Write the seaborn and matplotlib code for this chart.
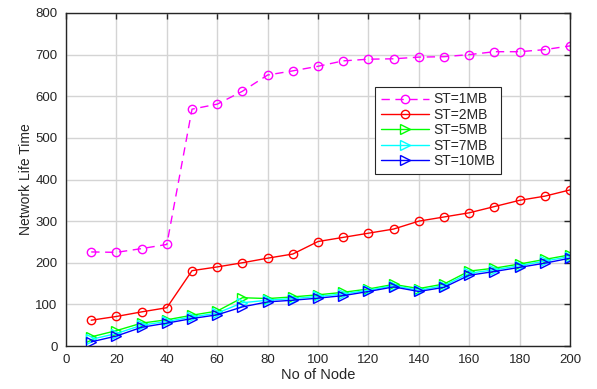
import numpy as np
import pandas as pd
import matplotlib
matplotlib.use('Agg')
import matplotlib.pyplot as plt
import seaborn as sns

nodes = [10, 20, 30, 40, 50, 60, 70, 80, 90, 100, 110, 120, 130, 140, 150, 160, 170, 180, 190, 200]
st_1mb = [226, 225, 234, 244, 569, 581, 612, 651, 661, 672, 685, 689, 690, 694, 695, 700, 707, 707, 712, 721]
st_2mb = [62, 71, 82, 92, 181, 190, 200, 211, 221, 251, 261, 271, 281, 300, 310, 320, 335, 350, 360, 375]
st_5mb = [22, 37, 55, 63, 74, 84, 116, 114, 118, 123, 129, 137, 148, 138, 149, 180, 187, 197, 208, 219]
st_7mb = [16, 30, 50, 59, 70, 79, 104, 110, 114, 119, 125, 134, 145, 134, 145, 175, 183, 193, 204, 215]
st_10mb = [10, 24, 45, 55, 66, 75, 94, 106, 110, 115, 121, 131, 142, 131, 141, 170, 179, 189, 199, 211]

series = [
    ('ST=1MB', st_1mb, '#ff00ff', 'o', (0, (6, 4))),
    ('ST=2MB', st_2mb, '#ff0000', 'o', '-'),
    ('ST=5MB', st_5mb, '#00ff00', '>', '-'),
    ('ST=7MB', st_7mb, '#00ffff', '>', '-'),
    ('ST=10MB', st_10mb, '#0000ff', '>', '-'),
]

sns.set_style('whitegrid')
plt.rcParams['font.family'] = ['Liberation Sans', 'DejaVu Sans']

fig = plt.figure(figsize=(5.97, 3.89), dpi=100)
ax = fig.add_axes([0.1106, 0.1105, 0.8442, 0.8561])

for name, vals, col, mk, ls in series:
    df = pd.DataFrame({'node': nodes, 'life': vals})
    sns.lineplot(data=df, x='node', y='life', ax=ax, color=col, marker=mk,
                 linestyle=ls, linewidth=1, markersize=6 if mk == 'o' else 7,
                 markerfacecolor='none', markeredgecolor=col, markeredgewidth=1,
                 label=name)

ax.set_xlim(0, 200)
ax.set_ylim(0, 800)
ax.set_xticks(np.arange(0, 201, 20))
ax.set_yticks(np.arange(0, 801, 100))
ax.grid(True, color='#d4d4d4', linewidth=1)
for s in ax.spines.values():
    s.set_color('#262626')
    s.set_linewidth(1)
ax.tick_params(direction='in', length=4, width=1, color='#262626', top=True, right=True,
               labelsize=9.5, labelcolor='#262626', pad=6)
ax.set_xlabel('No of Node', fontsize=10.5, color='#262626', labelpad=1)
ax.set_ylabel('Network Life Time', fontsize=10, color='#262626', labelpad=2)

leg = ax.legend(loc='upper left', bbox_to_anchor=(0.613, 0.778), borderaxespad=0,
                fontsize=10, frameon=True, fancybox=False, framealpha=1, numpoints=1,
                handlelength=3.5, handletextpad=0.3, labelspacing=0.1, borderpad=0.4)
leg.get_frame().set_edgecolor('#262626')
leg.get_frame().set_linewidth(0.8)

fig.savefig('out.png', dpi=100)
